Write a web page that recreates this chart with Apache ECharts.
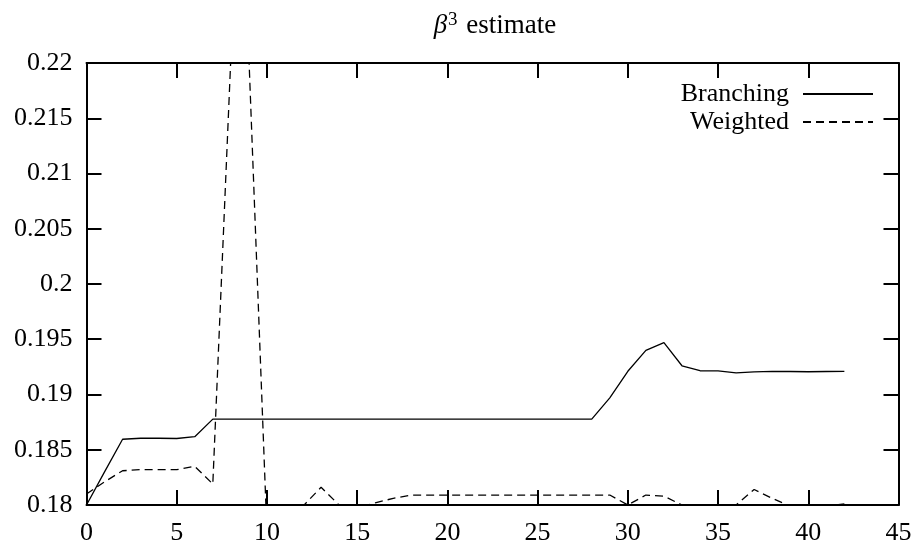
<!DOCTYPE html>
<html>
<head>
<meta charset="utf-8">
<script src="https://cdn.jsdelivr.net/npm/echarts@6/dist/echarts.min.js"></script>
<style>
html,body{margin:0;padding:0;background:#fff;}
#chart{width:916px;height:548px;}
</style>
</head>
<body>
<div id="chart"></div>
<script>
var xValues = [0,1,2,3,4,5,6,7,8,9,10,11,12,13,14,15,16,17,18,19,20,21,22,23,24,25,26,27,28,29,30,31,32,33,34,35,36,37,38,39,40,41,42];
var branching = [0.1800,0.1830,0.18595,0.18604,0.18604,0.18602,0.18618,0.18777,
  0.18777,0.18777,0.18777,0.18777,0.18777,0.18777,0.18777,0.18777,0.18777,0.18777,0.18777,0.18777,0.18777,0.18777,0.18777,0.18777,0.18777,0.18777,0.18777,0.18777,0.18777,
  0.1897,0.1921,0.1940,0.1947,0.1926,0.19215,0.19213,0.19195,0.19205,0.1921,0.19208,0.19206,0.19208,0.19209];
var weighted = [0.1810,0.1821,0.1831,0.1832,0.1832,0.1832,0.1835,0.1819,0.2205,0.2205,0.1775,0.1780,0.1799,0.1816,0.1800,0.1797,0.1802,0.1806,0.1809,
  0.1809,0.1809,0.1809,0.1809,0.1809,0.1809,0.1809,0.1809,0.1809,0.1809,0.1809,
  0.1800,0.1809,0.1808,0.1800,0.1798,0.1798,0.1800,0.1814,0.1806,0.1799,0.1798,0.1799,0.1801];
var seriesNames = ['Branching','Weighted'];
var titleText = 'estimate';

function pairs(ys){ return xValues.map(function(x,i){ return [x, ys[i]]; }); }

var FONT = '"Liberation Serif", "Times New Roman", serif';
var chart = echarts.init(document.getElementById('chart'), null, {renderer:'canvas'});
var axisLineStyle = {color:'#000', width:2};
var tickStyle = {show:true, inside:true, length:15, lineStyle:{color:'#000', width:2}};
var option = {
  backgroundColor:'#fff',
  animation:false,
  title:{
    text:'{b|β}{s|3} ' + titleText,
    left:490, textAlign:'center', top:6,
    textStyle:{
      fontFamily:FONT, fontSize:27, fontWeight:'normal', color:'#000',
      rich:{
        b:{fontFamily:FONT, fontSize:27, fontStyle:'italic', color:'#000'},
        s:{fontFamily:FONT, fontSize:19, color:'#000', verticalAlign:'top', padding:[0,2,10,1]}
      }
    }
  },
  legend:{
    orient:'vertical', right:37, top:76, align:'right',
    itemWidth:70, itemHeight:14, itemGap:2,
    itemStyle:{color:'transparent', borderColor:'transparent', borderWidth:0},
    textStyle:{fontFamily:FONT, fontSize:26, color:'#000', lineHeight:25, padding:[0,9,0,0]},
    data:seriesNames
  },
  grid:{left:86.5, right:17.5, top:63, bottom:43, containLabel:false},
  xAxis:[
    {type:'value', min:0, max:45, interval:5, position:'bottom',
     axisLine:{show:true, lineStyle:axisLineStyle, onZero:false}, axisTick:tickStyle, splitLine:{show:false},
     axisLabel:{fontFamily:FONT, fontSize:26, color:'#000', margin:15}},
    {type:'value', min:0, max:45, interval:5, position:'top',
     axisLine:{show:true, lineStyle:axisLineStyle, onZero:false}, axisTick:tickStyle, splitLine:{show:false},
     axisLabel:{show:false}}
  ],
  yAxis:[
    {type:'value', min:0.18, max:0.22, interval:0.005, position:'left',
     axisLine:{show:true, lineStyle:axisLineStyle, onZero:false}, axisTick:tickStyle, splitLine:{show:false},
     axisLabel:{fontFamily:FONT, fontSize:26, color:'#000', margin:14,
       formatter:function(v){ return String(+v.toFixed(3)); }}},
    {type:'value', min:0.18, max:0.22, interval:0.005, position:'right',
     axisLine:{show:true, lineStyle:axisLineStyle, onZero:false}, axisTick:tickStyle, splitLine:{show:false},
     axisLabel:{show:false}}
  ],
  series:[
    {name:seriesNames[0], type:'line', data:pairs(branching), showSymbol:false, symbol:'none',
     clip:true, lineStyle:{color:'#000', width:1.3, type:'solid'}, itemStyle:{color:'#000'}},
    {name:seriesNames[1], type:'line', data:pairs(weighted), showSymbol:false, symbol:'none',
     clip:true, lineStyle:{color:'#000', width:1.3, type:[8,5]}, itemStyle:{color:'#000'}}
  ]
};
chart.setOption(option);
</script>
</body>
</html>
